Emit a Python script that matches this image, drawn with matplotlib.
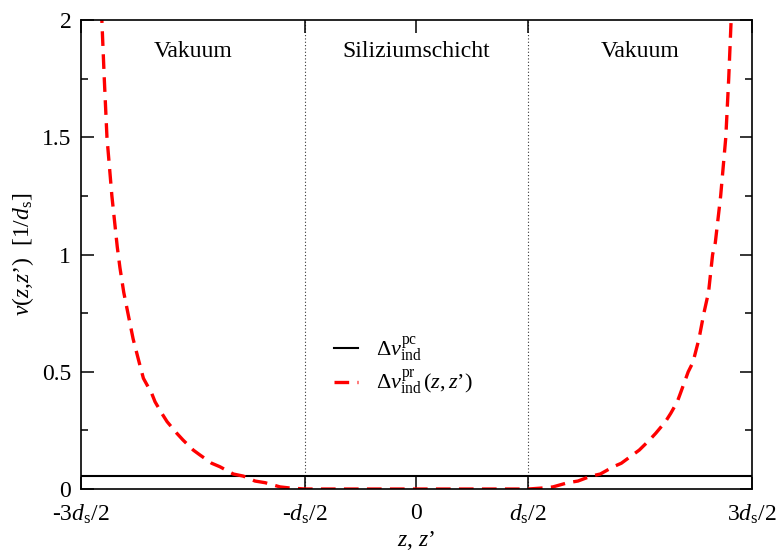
import numpy as np
import matplotlib
matplotlib.use('Agg')
import matplotlib.pyplot as plt

plt.rcParams['font.family'] = 'Liberation Serif'
plt.rcParams['mathtext.fontset'] = 'custom'
plt.rcParams['mathtext.rm'] = 'Liberation Serif'
plt.rcParams['mathtext.it'] = 'Liberation Serif:italic'
plt.rcParams['mathtext.bf'] = 'Liberation Serif:bold'

# positions in units of d_s
z_left = [-1.409, -1.396, -1.384, -1.362, -1.338, -1.326, -1.309, -1.288, -1.267,
          -1.240, -1.221, -1.184, -1.169, -1.139, -1.115, -1.072, -1.044, -0.998,
          -0.968, -0.916, -0.879, -0.819, -0.774, -0.722, -0.677, -0.61, -0.573, -0.5]
v_left = [2.05, 1.75, 1.5, 1.25, 1.033, 0.944, 0.839, 0.739, 0.64,
          0.54, 0.472, 0.408, 0.372, 0.323, 0.287, 0.238, 0.209, 0.166,
          0.145, 0.11, 0.095, 0.064, 0.055, 0.034, 0.027, 0.009, 0.005, 0.0]
z_right = [0.5, 0.573, 0.61, 0.677, 0.722, 0.78, 0.822, 0.88, 0.916, 0.966,
           0.996, 1.042, 1.07, 1.113, 1.137, 1.166, 1.18, 1.215, 1.236,
           1.263, 1.285, 1.306, 1.324, 1.336, 1.36, 1.383, 1.396, 1.409]
v_right = [0.0, 0.005, 0.009, 0.027, 0.034, 0.055, 0.064, 0.095, 0.11, 0.145,
           0.166, 0.209, 0.238, 0.287, 0.323, 0.372, 0.408, 0.5, 0.54,
           0.64, 0.75, 0.84, 1.0, 1.05, 1.25, 1.5, 1.75, 2.05]
z_pc = [-1.5, 1.5]
v_pc = [0.055, 0.055]

xticks = [-1.5, -0.5, 0, 0.5, 1.5]
xticklabels = [r'-3$d_{\rm s}$/2', r'-$d_{\rm s}$/2', '0', r'$d_{\rm s}$/2', r'3$d_{\rm s}$/2']
yticks = [0, 0.5, 1, 1.5, 2]
yticklabels = ['0', '0.5', '1', '1.5', '2']
regions = ['Vakuum', 'Siliziumschicht', 'Vakuum']
region_x = [-1.0, 0.0, 1.0]

z_pr = z_left + z_right
v_pr = v_left + v_right

fig = plt.figure(figsize=(7.79, 5.53), dpi=100)
ax = fig.add_axes([0.104, 0.1157, 0.8613, 0.8481])

ax.plot(z_pc, v_pc, color='black', lw=1.5, label=r'$\Delta v^{\rm pc}_{\rm ind}$')
ax.plot(z_pr, v_pr, color='red', lw=2.4, linestyle=(0, (4.4, 2.5)),
        label=r'$\Delta v^{\rm pr}_{\rm ind}\,(z,z$’$)$')

for xv in [-0.5, 0.5]:
    ax.axvline(xv, color='black', lw=0.8, linestyle=(0, (1, 2)), alpha=0.8)

for xr, name in zip(region_x, regions):
    ax.text(xr, 1.865, name, ha='center', va='center', fontsize=17)

ax.set_xlim(-1.5, 1.5)
ax.set_ylim(0, 2)
ax.set_xticks(xticks)
ax.set_xticklabels(xticklabels)
ax.set_yticks(yticks)
ax.set_yticklabels(yticklabels)
ax.set_yticks([0.25, 0.75, 1.25, 1.75], minor=True)

ax.tick_params(which='both', direction='in', top=True, right=True, labelsize=17)
ax.tick_params(axis='x', pad=10)
ax.tick_params(axis='y', pad=7)
ax.tick_params(which='major', length=9, width=1.1)
ax.tick_params(which='minor', length=5, width=1.1)
for sp in ax.spines.values():
    sp.set_linewidth(1.2)

ax.set_xlabel(r'$z$, $z$’', fontsize=17, labelpad=2)
ax.set_ylabel(r'$v$($z$,$z$’)  [1/$d_{\rm s}$]', fontsize=17, labelpad=4)

ax.legend(loc='center', bbox_to_anchor=(0.48, 0.262), frameon=False, fontsize=16,
          handlelength=1.1, handletextpad=0.8, labelspacing=0.2)

fig.savefig('out.png', dpi=100)
